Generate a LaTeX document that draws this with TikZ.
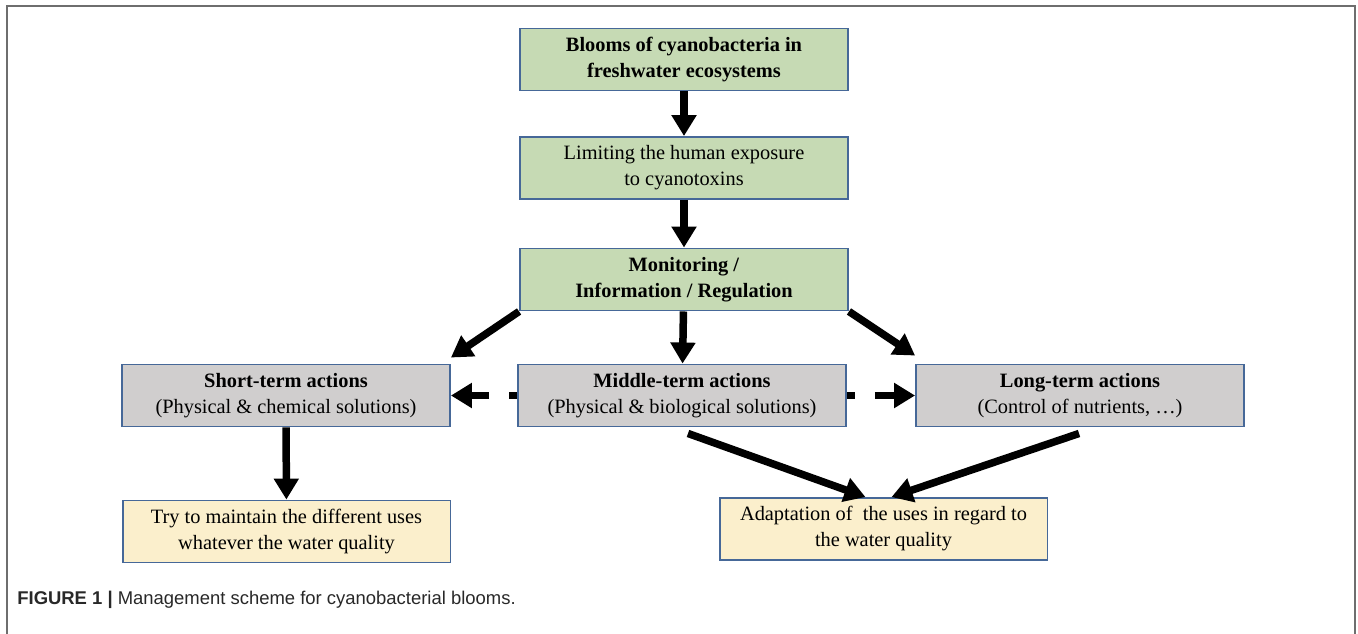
\documentclass[tikz,border=0pt]{standalone}
\usepackage{fontspec}
\setmainfont{Liberation Serif}
\newfontfamily\capfont{Liberation Sans}
\usetikzlibrary{arrows.meta,calc}

\definecolor{boxgreen}{RGB}{198,218,180}
\definecolor{boxgray}{RGB}{208,206,206}
\definecolor{boxyellow}{RGB}{251,239,204}
\definecolor{boxedge}{RGB}{70,104,152}
\definecolor{framegray}{RGB}{110,110,110}
\definecolor{captext}{RGB}{40,40,40}

\begin{document}
\begin{tikzpicture}[x=0.02cm, y=-0.02cm, >={Triangle[length=0.42cm,width=0.48cm]},
  box/.style={draw=boxedge, line width=1.1pt, align=center, inner sep=0pt,
    minimum width=6.56cm, minimum height=1.24cm, font=\fontsize{11.6}{14.8}\selectfont},
  greenbox/.style={box, fill=boxgreen},
  graybox/.style={box, fill=boxgray},
  yellowbox/.style={box, fill=boxyellow},
  flow/.style={->, line width=0.15cm},
  dflow/.style={flow, dash pattern=on 0.16cm off 0.4cm on 2cm}]
  \useasboundingbox (0,0) rectangle (1358,633);
  % frame of the figure
  \draw[framegray, line width=1.2pt] (7,640) -- (7,6) -- (1355,6) -- (1355,640);

  % boxes
  \node[greenbox] (blooms) at (684,59.5) {\textbf{Blooms of cyanobacteria in}\\\textbf{freshwater ecosystems}};
  \node[greenbox] (limit) at (684,168) {Limiting the human exposure\\to cyanotoxins};
  \node[greenbox] (monitor) at (684,279.5) {\textbf{Monitoring /}\\\textbf{Information / Regulation}};
  \node[graybox] (short) at (286,395.5) {\textbf{Short-term actions}\\(Physical \& chemical solutions)};
  \node[graybox] (middle) at (682,395.5) {\textbf{Middle-term actions}\\(Physical \& biological solutions)};
  \node[graybox] (long) at (1080,395.5) {\textbf{Long-term actions}\\(Control of nutrients, \dots)};
  \node[yellowbox] (keep) at (286.5,531.5) {Try to maintain the different uses\\whatever the water quality};
  \node[yellowbox] (adapt) at (883.5,529) {Adaptation of~ the uses in regard to\\the water quality};

  % arrows
  \draw[flow] (blooms) -- (limit);
  \draw[flow] (limit) -- (monitor);
  \draw[flow] (monitor.south west) -- ($(short.north east)+(0,-6)$);
  \draw[flow] (monitor) -- (middle);
  \draw[flow] (monitor.south east) -- ($(long.north west)+(0,-8)$);
  \draw[dflow] (middle) -- (short);
  \draw[dflow] (middle) -- (long);
  \draw[flow] (short) -- (keep);
  \draw[flow] ($(middle.south)+(6,6)$) -- ($(adapt.north)+(-18,0)$);
  \draw[flow] ($(long.south)+(-1,6)$) -- ($(adapt.north)+(8,0)$);

  % caption
  \node[anchor=west, text=captext, inner sep=0pt, font=\capfont\fontsize{10.5}{12}\selectfont] (caption) at (17,600)
    {\textbf{FIGURE 1} \textbf{|} Management scheme for cyanobacterial blooms.};
\end{tikzpicture}
\end{document}
